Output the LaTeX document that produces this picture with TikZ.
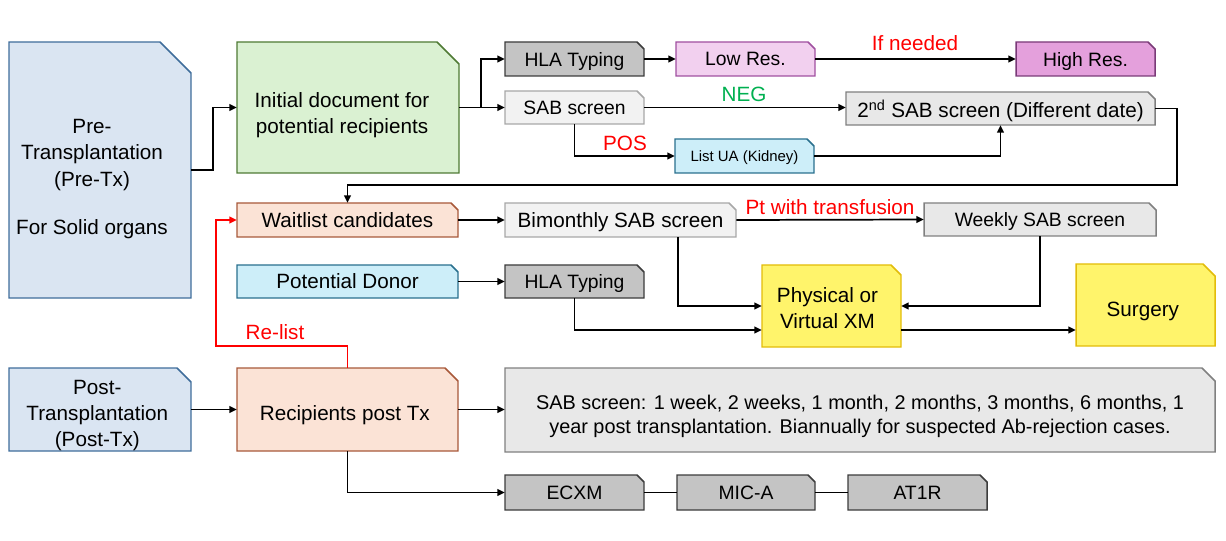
\documentclass[tikz,border=0pt]{standalone}
\usepackage{fontspec}
\setmainfont{Liberation Sans}
\usetikzlibrary{arrows.meta,calc}

\definecolor{ptxfill}{HTML}{DAE5F2}
\definecolor{ptxline}{HTML}{3F6D9B}
\definecolor{docfill}{HTML}{DAF1D2}
\definecolor{docline}{HTML}{4F7A34}
\definecolor{hlafill}{HTML}{C4C4C4}
\definecolor{hlaline}{HTML}{3C3C3C}
\definecolor{sabfill}{HTML}{F2F2F2}
\definecolor{sabline}{HTML}{A8A8A8}
\definecolor{sabbfill}{HTML}{E8E8E8}
\definecolor{sabbline}{HTML}{808080}
\definecolor{lowfill}{HTML}{F2D0EF}
\definecolor{lowline}{HTML}{A050A0}
\definecolor{highfill}{HTML}{E4A0DC}
\definecolor{highline}{HTML}{7A3A78}
\definecolor{cyanfill}{HTML}{CDEEF9}
\definecolor{cyanline}{HTML}{2A708E}
\definecolor{peachfill}{HTML}{FBE3D6}
\definecolor{peachline}{HTML}{A8593A}
\definecolor{xmfill}{HTML}{FFF46B}
\definecolor{xmline}{HTML}{E2BC0A}
\definecolor{relist}{HTML}{FF0000}
\definecolor{neggreen}{HTML}{00B050}

% font sizes
\newcommand\szbig{\fontsize{15.5}{19.5}\selectfont}
\newcommand\szpre{\fontsize{15.5}{20}\selectfont}
\newcommand\szmid{\fontsize{14.5}{18}\selectfont}
\newcommand\szsmall{\fontsize{11.2}{13}\selectfont}
\newcommand\szlong{\fontsize{14.9}{18}\selectfont}

% box with a snipped top-right corner:
% #1 name, #2 style, #3 x1, #4 y1, #5 x2, #6 y2, #7 snip size,
% #8 options of the text node, #9 text
\newcommand\snipbox[9]{%
  \path[#2] (#3,#4) -- ({#5-#7},#4) -- (#5,{#4+#7}) -- (#5,#6) -- (#3,#6) -- cycle;
  \node[boxarea, minimum width={(#5-#3)*0.75pt}, minimum height={(#6-#4)*0.75pt}]
    (#1) at ({(#3+#5)/2},{(#4+#6)/2}) {};
  \node[boxtext, #8] (#1-t) at (#1.center) {#9};
}

\begin{document}
\begin{tikzpicture}[x=0.75pt, y=-0.75pt,
  boxarea/.style={inner sep=0pt, draw=none},
  boxtext/.style={inner sep=0pt, draw=none, align=center, text depth=0pt},
  frame/.style={line width=1.1pt},
  ptxbox/.style={frame, draw=ptxline, fill=ptxfill},
  docbox/.style={frame, draw=docline, fill=docfill},
  hlabox/.style={frame, draw=hlaline, fill=hlafill},
  sabbox/.style={frame, draw=sabline, fill=sabfill},
  sabtwobox/.style={frame, draw=sabbline, fill=sabbfill},
  lowbox/.style={frame, draw=lowline, fill=lowfill},
  highbox/.style={frame, draw=highline, fill=highfill},
  cyanbox/.style={frame, draw=cyanline, fill=cyanfill},
  peachbox/.style={frame, draw=peachline, fill=peachfill},
  xmbox/.style={frame, draw=xmline, fill=xmfill},
  arr/.style={line width=1.3pt, -{Triangle[length=5.5pt,width=5pt]}},
  ln/.style={line width=1.3pt},
  redarr/.style={arr, draw=relist},
  lbl/.style={inner sep=0pt, font=\szbig}]

\useasboundingbox (0,0) rectangle (1226,541);

% ---- pre-transplantation column ----
\snipbox{pre}{ptxbox}{9}{42}{191}{298}{31}{font=\szpre, xshift=-6pt, yshift=-5pt}{Pre-\\Transplantation\\(Pre-Tx)\\[16pt]For Solid organs}
\snipbox{init}{docbox}{237}{42}{459}{173}{22}{font=\szbig, xshift=-4.5pt, yshift=-4pt}{Initial document for\\potential recipients}

\snipbox{hla}{hlabox}{505}{42}{644}{76}{7}{font=\szmid}{HLA Typing}
\snipbox{low}{lowbox}{676}{42}{815}{76}{7}{font=\szmid}{Low Res.}
\snipbox{high}{highbox}{1016}{42}{1155}{76}{7}{font=\szmid}{High Res.}
\snipbox{sab}{sabbox}{505}{91}{644}{124}{7}{font=\szmid}{SAB screen}
\snipbox{sab2}{sabtwobox}{846}{92}{1155}{125}{7}{font=\szbig}{2\textsuperscript{nd} SAB screen (Different date)}
\snipbox{ua}{cyanbox}{675}{139}{814}{173}{7}{font=\szsmall}{List UA (Kidney)}

% ---- waitlist ----
\snipbox{wait}{peachbox}{237}{203}{458}{237}{7}{font=\szbig}{Waitlist candidates}
\snipbox{bim}{sabbox}{505}{203}{736}{237}{7}{font=\szbig}{Bimonthly SAB screen}
\snipbox{week}{sabtwobox}{924}{203}{1156}{236}{7}{font=\szmid}{Weekly SAB screen}
\snipbox{donor}{cyanbox}{237}{265}{458}{298}{7}{font=\szbig}{Potential Donor}
\snipbox{hla2}{hlabox}{505}{265}{644}{298}{7}{font=\szmid}{HLA Typing}
\snipbox{phys}{xmbox}{762}{265}{901}{347}{10}{font=\szbig, xshift=-3pt, yshift=-1.5pt}{Physical or\\Virtual XM}
\snipbox{surg}{xmbox}{1076}{264}{1215}{346}{12}{font=\szbig, xshift=-2pt, yshift=-3pt}{Surgery}

% ---- post-transplantation ----
\snipbox{post}{ptxbox}{9}{368}{191}{451}{14}{font=\szbig, xshift=-2pt, yshift=-3pt}{Post-\\Transplantation\\(Post-Tx)}
\snipbox{rec}{peachbox}{237}{368}{458}{451}{13}{font=\szbig, xshift=-2pt, yshift=-3pt}{Recipients post Tx}
\snipbox{big}{sabtwobox}{505}{368}{1215}{452}{13}{font=\szlong, yshift=-3pt}{SAB screen: 1 week, 2 weeks, 1 month, 2 months, 3 months, 6 months, 1\\year post transplantation. Biannually for suspected Ab-rejection cases.}
\snipbox{ecxm}{hlabox}{505}{475}{644}{510}{7}{font=\szmid}{ECXM}
\snipbox{mica}{hlabox}{677}{475}{815}{510}{7}{font=\szmid}{MIC-A}
\snipbox{at1r}{hlabox}{848}{475}{987}{510}{7}{font=\szmid}{AT1R}

% ---- bend points ----
\coordinate (j0) at (213,0);
\coordinate (j1) at (481,0);
\coordinate (j2) at (1177,185);
\coordinate (j3) at (678,0);
\coordinate (j5) at (216,346);
\coordinate (p0) at ($(phys.west)+(0,24)$);
\coordinate (p1) at ($(phys.east)+(0,24)$);

% ---- connectors ----
\draw[arr] (pre.east) -| (j0 |- init.west) -- (init.west);
\draw[arr] (init.east) -- (sab.west);
\draw[arr] (j1 |- init.east) |- (hla.west);
\draw[arr] (hla.east) -- (low.west);
\draw[arr] (low.east) -- (high.west);
\draw[arr] (sab.east) -- (sab.east -| sab2.west);
\draw[arr] (sab.south) |- (ua.west);
\draw[arr] (ua.east) -| (sab2.south);
\draw[arr] (sab2.east) -| (j2) -| (wait.north);
\draw[arr] (wait.east) -- (bim.west);
\draw[arr] (bim.east) -- (week.west);
\draw[arr] (bim.south -| j3) |- (phys.west);
\draw[arr] (donor.east) -- (hla2.west);
\draw[arr] (hla2.south) |- (p0);
\draw[arr] (week.south) |- (phys.east);
\draw[arr] (p1) -- (p1 -| surg.west);
\draw[redarr] (rec.north) |- (j5) |- (wait.west);
\draw[arr] (post.east) -- (post.east -| rec.west);
\draw[arr] (rec.east) -- (rec.east -| big.west);
\draw[arr] (rec.south) |- (ecxm.west);
\draw[ln] (ecxm.east) -- (mica.west);
\draw[ln] (mica.east) -- (at1r.west);

% ---- connector labels ----
\node[lbl, text=relist] (ifneeded) at (915,43) {If needed};
\node[lbl, text=neggreen] (neg) at (744,94) {NEG};
\node[lbl, text=relist] (pos) at (625,143) {POS};
\node[lbl, text=relist] (ptx) at (830,207) {Pt with transfusion};
\node[lbl, text=relist] (relistlbl) at (275,332) {Re-list};

\end{tikzpicture}
\end{document}
